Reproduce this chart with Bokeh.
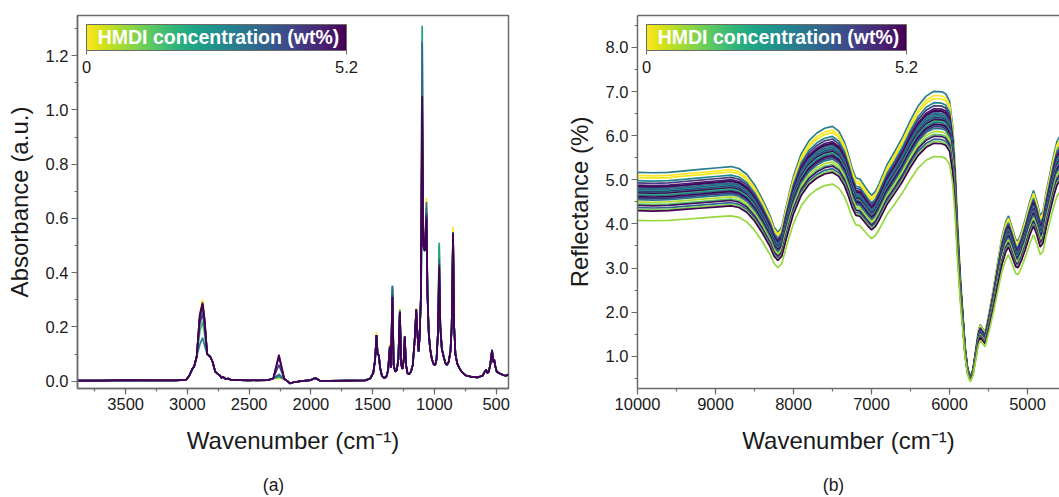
from bokeh.plotting import figure
from bokeh.models import (Range1d, SingleIntervalTicker, NumeralTickFormatter, ColorBar,
                          LinearColorMapper, FixedTicker, Label, LinearAxis,
                          ColumnDataSource)
from bokeh.palettes import Viridis256
from bokeh.layouts import row, column
from bokeh.transform import linear_cmap
from bokeh.embed import file_html
from bokeh.resources import INLINE

# ---------------- data: panel (a) FTIR absorbance ----------------
ftir_wn = [3890, 3700, 3500, 3300, 3100, 3010, 2985, 2960, 2945, 2925, 2900, 2877, 2860, 2840, 2815, 2795,
           2775, 2750, 2735, 2725, 2712, 2690, 2670, 2650, 2500, 2350, 2305, 2259, 2215, 2190,
           2170, 2140, 2080, 2000, 1975, 1955, 1930, 1850, 1700, 1560, 1520, 1495, 1480, 1469,
           1460, 1450, 1440, 1425, 1410, 1390, 1375, 1361, 1352, 1340, 1330, 1318, 1305, 1292,
           1280, 1268, 1258, 1248, 1240, 1230, 1218, 1205, 1190, 1175, 1160, 1147, 1138, 1128,
           1120, 1110, 1099, 1090, 1078, 1064, 1056, 1046, 1035, 1020, 1005, 993, 983, 972,
           961, 952, 940, 925, 910, 900, 885, 870, 860, 849, 840, 830, 815, 800, 780, 750,
           700, 650, 610, 592, 581, 572, 560, 548, 533, 524, 516, 507, 495, 470, 440, 420, 400]
ftir_abs = [0.002, 0.002, 0.004, 0.003, 0.003, 0.005, 0.02, 0.045, 0.055, 0.09, 0.24, 0.285, 0.22, 0.10, 0.09, 0.07,
            0.035, 0.025, 0.02, 0.012, 0.016, 0.008, 0.01, 0.005, 0.003, 0.004, 0.01, 0.098, 0.008, 0.0,
            -0.008, -0.004, 0.0, 0.004, 0.01, 0.01, 0.002, 0.001, 0.002, 0.003, 0.01, 0.03, 0.08, 0.17,
            0.10, 0.095, 0.05, 0.02, 0.012, 0.015, 0.04, 0.125, 0.05, 0.31, 0.06, 0.035, 0.04, 0.08,
            0.255, 0.06, 0.045, 0.08, 0.165, 0.06, 0.03, 0.025, 0.035, 0.06, 0.15, 0.265, 0.18, 0.11,
            0.16, 0.30, 1.05, 0.50, 0.48, 0.60, 0.32, 0.18, 0.12, 0.08, 0.062, 0.06, 0.08, 0.17,
            0.42, 0.20, 0.12, 0.09, 0.065, 0.06, 0.07, 0.11, 0.20, 0.545, 0.20, 0.10, 0.065, 0.05, 0.035, 0.022,
            0.016, 0.014, 0.02, 0.035, 0.042, 0.03, 0.035, 0.06, 0.115, 0.07, 0.08, 0.055, 0.035, 0.028, 0.022, 0.02, 0.025]

# band values that differ from sample to sample (cm-1)
ftir_peak_wn = [2900, 2877, 2860, 2259, 1469, 1361, 1340, 1280, 1147, 1099, 1064, 961, 849]
ftir_conc = [0.0, 1.6, 2.2, 2.9, 3.4, 4.2, 4.9, 5.2]
ftir_peak_abs = [
    [0.250, 0.300, 0.230, 0.010, 0.180, 0.140, 0.330, 0.270, 0.270, 1.200, 0.675, 0.490, 0.568],
    [0.180, 0.220, 0.170, 0.015, 0.170, 0.130, 0.340, 0.260, 0.260, 0.720, 0.620, 0.500, 0.550],
    [0.225, 0.270, 0.210, 0.020, 0.170, 0.130, 0.340, 0.260, 0.260, 1.310, 0.640, 0.510, 0.550],
    [0.135, 0.160, 0.130, 0.020, 0.160, 0.125, 0.353, 0.250, 0.250, 0.550, 0.550, 0.260, 0.530],
    [0.235, 0.280, 0.215, 0.025, 0.170, 0.130, 0.350, 0.260, 0.260, 1.250, 0.660, 0.450, 0.550],
    [0.210, 0.250, 0.195, 0.060, 0.170, 0.125, 0.320, 0.255, 0.265, 0.950, 0.620, 0.400, 0.545],
    [0.245, 0.290, 0.225, 0.090, 0.170, 0.125, 0.310, 0.255, 0.265, 1.000, 0.610, 0.430, 0.545],
    [0.240, 0.285, 0.220, 0.098, 0.170, 0.125, 0.310, 0.255, 0.265, 1.050, 0.600, 0.420, 0.545],
]

# ---------------- data: panel (b) NIR reflectance ----------------
nir_wn = [10000, 9800, 9600, 9400, 9200, 9000, 8800, 8700, 8600, 8500, 8400, 8300, 8250, 8200,
          8150, 8100, 8050, 8000, 7900, 7800, 7700, 7600, 7500, 7420, 7350, 7300, 7250, 7200,
          7150, 7100, 7050, 7000, 6950, 6900, 6800, 6700, 6600, 6500, 6400, 6300, 6200, 6100,
          6050, 6000, 5960, 5930, 5900, 5863, 5800, 5770, 5735, 5700, 5671, 5630, 5607, 5575,
          5543, 5490, 5436, 5380, 5329, 5280, 5244, 5200, 5150, 5120, 5080, 5029, 4970, 4923,
          4880, 4837, 4800, 4760, 4709, 4660, 4623, 4590]
nir_refl = [4.76, 4.75, 4.76, 4.79, 4.82, 4.85, 4.88, 4.84, 4.72, 4.50, 4.20, 3.85, 3.62, 3.51,
            3.62, 4.00, 4.35, 4.68, 5.15, 5.42, 5.58, 5.68, 5.72, 5.62, 5.40, 5.15, 4.85, 4.64,
            4.62, 4.50, 4.38, 4.28, 4.36, 4.53, 4.92, 5.20, 5.50, 5.85, 6.15, 6.35, 6.45, 6.44,
            6.40, 6.25, 5.74, 4.95, 3.80, 2.64, 1.13, 0.70, 0.49, 0.65, 0.98, 1.45, 1.58, 1.50,
            1.42, 1.85, 2.34, 2.90, 3.40, 3.72, 3.85, 3.62, 3.35, 3.33, 3.50, 3.78, 4.15, 4.38,
            4.15, 3.85, 3.95, 4.35, 4.76, 5.15, 5.40, 5.50]
# each sample: HMDI concentration (wt%) and its reflectance level at 10000 cm-1
nir_conc = [3.0, 0.0, 0.1, 2.8, 4.3, 4.8, 5.0, 5.2, 3.4, 3.6, 4.5, 2.6, 5.1, 3.1, 4.6, 5.2,
            1.7, 3.0, 2.7, 5.2, 4.4, 3.2, 0.6, 1.3, 4.9, 3.5, 1.0, 5.2, 0.8]
nir_level_10000 = [5.17, 5.10, 5.05, 4.98, 4.93, 4.88, 4.85, 4.84, 4.81, 4.78, 4.76, 4.76, 4.73,
                   4.72, 4.70, 4.69, 4.67, 4.65, 4.60, 4.62, 4.58, 4.55, 4.50, 4.45, 4.42, 4.37,
                   4.33, 4.30, 4.08]

conc_low, conc_high = 0.0, 5.2
legend_title = "HMDI concentration (wt%)"

# ---------------- build series ----------------
palette = list(reversed(Viridis256))

a_xs, a_ys = [], []
for heights in ftir_peak_abs:
    ys = list(ftir_abs)
    for wn, h in zip(ftir_peak_wn, heights):
        ys[ftir_wn.index(wn)] = h
    a_xs.append(ftir_wn)
    a_ys.append(ys)
src_a = ColumnDataSource(dict(xs=a_xs, ys=a_ys, conc=ftir_conc))

b_xs, b_ys = [], []
for lvl in nir_level_10000:
    k = lvl / nir_refl[0]
    b_xs.append(nir_wn)
    b_ys.append([v * k for v in nir_refl])
src_b = ColumnDataSource(dict(xs=b_xs, ys=b_ys, conc=nir_conc))

FONT = "Liberation Sans"
GRAY = "#6b6b6b"
TXT = "#1a1a1a"


def style(p, xint, yint, yfmt):
    p.xaxis.ticker = SingleIntervalTicker(interval=xint, num_minor_ticks=2)
    p.yaxis.ticker = SingleIntervalTicker(interval=yint, num_minor_ticks=2)
    p.xaxis.formatter = NumeralTickFormatter(format="0")
    p.yaxis.formatter = NumeralTickFormatter(format=yfmt)
    p.xgrid.visible = False
    p.ygrid.visible = False
    for ax in (p.xaxis[0], p.yaxis[0]):
        ax.axis_line_color = GRAY
        ax.axis_line_width = 1.5
        ax.major_tick_line_color = GRAY
        ax.minor_tick_line_color = GRAY
        ax.major_tick_line_width = 1.2
        ax.minor_tick_line_width = 1.2
        ax.major_tick_in = 0
        ax.major_tick_out = 6
        ax.minor_tick_in = 0
        ax.minor_tick_out = 3
        ax.major_label_text_font = FONT
        ax.major_label_text_font_size = "16.5px"
        ax.major_label_text_color = TXT
        ax.major_label_standoff = 3
        ax.axis_label_text_font = FONT
        ax.axis_label_text_font_size = "24px"
        ax.axis_label_text_font_style = "normal"
        ax.axis_label_text_color = TXT
    p.xaxis.axis_label_standoff = 14
    p.yaxis.axis_label_standoff = 10
    p.outline_line_color = GRAY
    p.outline_line_width = 1.5
    p.background_fill_color = "white"
    p.border_fill_color = "white"


def add_legend(p):
    mapper = LinearColorMapper(palette=palette, low=conc_low, high=conc_high)
    cb = ColorBar(color_mapper=mapper, orientation="horizontal", location="top_left",
                  width=260, height=26, margin=0, padding=9,
                  ticker=FixedTicker(ticks=[conc_low, conc_high]),
                  major_label_overrides={conc_low: "0", conc_high: "5.2"},
                  major_label_text_font=FONT, major_label_text_font_size="16.5px",
                  major_label_text_color=TXT, label_standoff=6,
                  major_tick_line_color=GRAY, major_tick_in=0, major_tick_out=4,
                  minor_tick_line_color=None, bar_line_color=GRAY, bar_line_width=1,
                  background_fill_color=None, border_line_color=None)
    p.add_layout(cb)
    p.add_layout(Label(x=141, y=352, x_units="screen", y_units="screen", text=legend_title,
                       text_color="white", text_font=FONT, text_font_style="bold",
                       text_font_size="19.5px", text_align="center", text_baseline="middle"))


def caption_fig(width, text, cx):
    c = figure(width=width, height=27, output_backend="svg", toolbar_location=None,
               x_range=Range1d(0, width), y_range=Range1d(0, 27),
               min_border_left=0, min_border_right=0, min_border_top=0, min_border_bottom=0)
    c.axis.visible = False
    c.grid.visible = False
    c.outline_line_color = None
    c.add_layout(Label(x=cx, y=13, text=text, text_font=FONT, text_font_size="17.5px",
                       text_color=TXT, text_align="center", text_baseline="middle"))
    return c


# ---------------- panel (a) ----------------
pa = figure(width=530, height=470, output_backend="svg", toolbar_location=None,
            x_range=Range1d(3890, 400), y_range=Range1d(-0.027, 1.348),
            min_border_left=77, min_border_right=22, min_border_top=15, min_border_bottom=82,
            x_axis_label="Wavenumber (cm\u207b\u00b9)", y_axis_label="Absorbance (a.u.)")
style(pa, 500, 0.2, "0.0")
pa.multi_line("xs", "ys", source=src_a, line_width=1.7,
              line_color=linear_cmap("conc", palette, conc_low, conc_high))
add_legend(pa)

# ---------------- panel (b) ----------------
pb = figure(width=529, height=470, output_backend="svg", toolbar_location=None,
            x_range=Range1d(10000, 4590), y_range=Range1d(0.268, 8.725),
            min_border_left=107, min_border_right=0, min_border_top=15, min_border_bottom=82,
            x_axis_label="Wavenumber (cm\u207b\u00b9)", y_axis_label="Reflectance (%)")
style(pb, 1000, 1.0, "0.0")
pb.outline_line_color = None
top_ax = LinearAxis(ticker=FixedTicker(ticks=[]), axis_line_color=GRAY, axis_line_width=1.5,
                    major_tick_line_color=None, minor_tick_line_color=None,
                    major_label_text_font_size="0px")
pb.add_layout(top_ax, "above")
pb.multi_line("xs", "ys", source=src_b, line_width=1.7,
              line_color=linear_cmap("conc", palette, conc_low, conc_high))
add_legend(pb)

ca = caption_fig(530, "(a)", 273)
cb_ = caption_fig(529, "(b)", 303)

layout = column(row(pa, pb, spacing=0), row(ca, cb_, spacing=0), spacing=0)
open("out.html", "w").write(file_html(layout, INLINE))
